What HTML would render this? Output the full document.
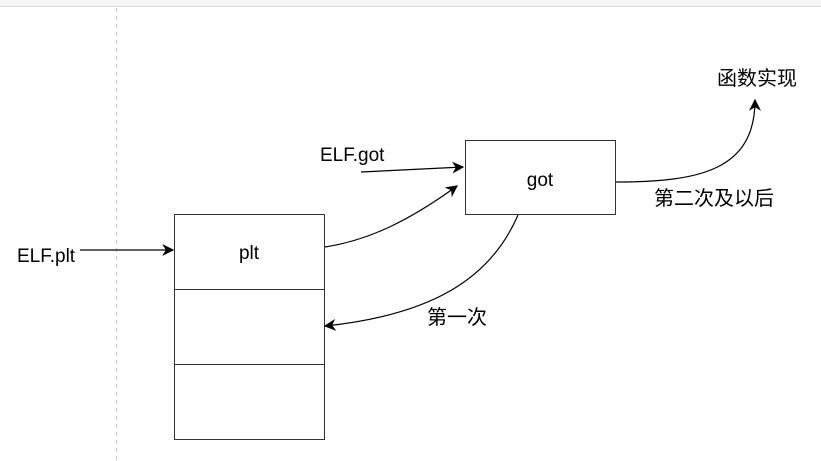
<!DOCTYPE html>
<html><head><meta charset="utf-8"><style>
html,body{margin:0;padding:0;background:#fff;width:821px;height:461px;overflow:hidden}
</style></head><body>
<svg width="821" height="461" xmlns="http://www.w3.org/2000/svg" font-family="Liberation Sans, Noto Sans CJK SC, sans-serif" font-size="19">
<defs>
<marker id="b" viewBox="0 0 10 10" refX="9" refY="5" markerWidth="12" markerHeight="12" orient="auto" markerUnits="userSpaceOnUse"><path d="M0,0 L10,5 L0,10 L3,5 z" fill="#000"/></marker></defs>
<rect x="0" y="0" width="821" height="6" fill="#f4f4f4"/>
<line x1="0" y1="6.5" x2="821" y2="6.5" stroke="#dcdcdc"/>
<line x1="116.5" y1="8" x2="116.5" y2="461" stroke="#c8c8c8" stroke-dasharray="4,4"/>
<rect x="174.5" y="214.5" width="150" height="225" fill="#fff" stroke="#333"/>
<line x1="174.5" y1="289.5" x2="324.5" y2="289.5" stroke="#333"/>
<line x1="174.5" y1="364.5" x2="324.5" y2="364.5" stroke="#333"/>
<rect x="465.5" y="140.5" width="150" height="74" fill="#fff" stroke="#333"/>
<text x="249" y="259" text-anchor="middle">plt</text>
<text x="540" y="186" text-anchor="middle">got</text>
<text x="17" y="262">ELF.plt</text>
<text x="320" y="161">ELF.got</text>
<g font-size="20">
<text x="757" y="85" text-anchor="middle">函数实现</text>
<text x="714" y="205" text-anchor="middle">第二次及以后</text>
<text x="457" y="324" text-anchor="middle">第一次</text>
</g>
<g fill="none" stroke="#000" stroke-width="1.2">
<line x1="80" y1="250" x2="173" y2="250" marker-end="url(#b)"/>
<line x1="361" y1="172" x2="463" y2="167" marker-end="url(#b)"/>
<path d="M325,247 C370,240 410,220 457,186" marker-end="url(#b)"/>
<path d="M518,215 C490,280 430,315 325,326" marker-end="url(#b)"/>
<path d="M616,182 C700,182 755,170 755,100" marker-end="url(#b)"/>
</g>
</svg>
</body></html>
